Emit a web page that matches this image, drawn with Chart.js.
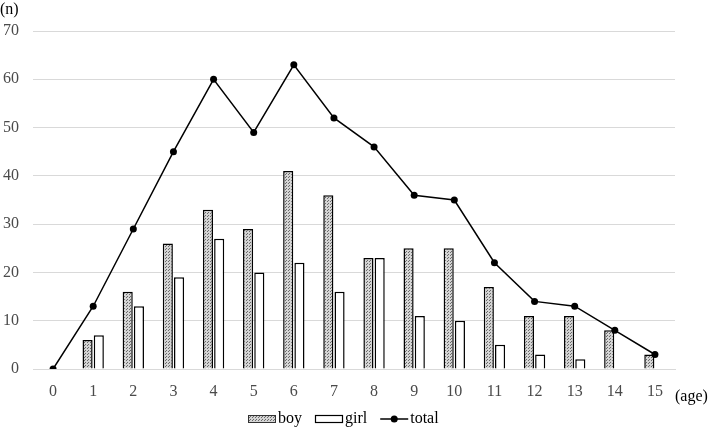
<!DOCTYPE html>
<html>
<head>
<meta charset="utf-8">
<script src="https://cdn.jsdelivr.net/npm/chart.js@4"></script>
<style>
  html, body { margin: 0; padding: 0; background: #fff; }
  #wrap { width: 709px; height: 429px; }
</style>
</head>
<body>
<div id="wrap"><canvas id="ageChart"></canvas></div>
<script>
const ages = ['0', '1', '2', '3', '4', '5', '6', '7', '8', '9', '10', '11', '12', '13', '14', '15'];
const boy = [0, 6, 16, 26, 33, 29, 41, 36, 23, 25, 25, 17, 11, 11, 8, 3];
const girl = [0, 7, 13, 19, 27, 20, 22, 16, 23, 11, 10, 5, 3, 2, 0, 0];
const total = [0, 13, 29, 45, 60, 49, 63, 52, 46, 36, 35, 22, 14, 13, 8, 3];

// dotted fill for the boy bars
function dotPattern() {
  const c = document.createElement('canvas');
  c.width = 3; c.height = 3;
  const g = c.getContext('2d');
  g.fillStyle = '#d4d4d4';
  g.fillRect(0, 0, 3, 3);
  g.fillStyle = '#6a6a6a';
  g.fillRect(0, 0, 1, 1);
  g.fillRect(1, 2, 1, 1);
  return g.createPattern(c, 'repeat');
}
const boyFill = dotPattern();

const font = '16px "Liberation Serif"';

// legend + axis titles, drawn by hand so the symbols look like the original
const extras = {
  id: 'extras',
  afterDraw(chart) {
    const ctx = chart.ctx;
    ctx.save();
    ctx.font = font;
    ctx.fillStyle = '#000';
    ctx.textBaseline = 'middle';
    ctx.textAlign = 'left';
    ctx.fillText('(n)', 0, 10);
    ctx.fillText('(age)', 675, 397);

    const items = ['boy', 'girl', 'total'];
    const iconW = 28, gapIcon = 2, gapItem = 13;
    let width = 0;
    const tws = items.map(t => ctx.measureText(t).width);
    tws.forEach((tw, i) => { width += iconW + gapIcon + tw + (i ? gapItem : 0); });
    // the original legend sits a little left of centre
    let x = Math.round(chart.width / 2 - width / 2) - 11;
    const y = 419;
    items.forEach((t, i) => {
      if (t === 'boy') {
        ctx.fillStyle = boyFill;
        ctx.fillRect(x, y - 4, iconW, 8);
        ctx.strokeStyle = '#333'; ctx.lineWidth = 1;
        ctx.strokeRect(x + 0.5, y - 3.5, iconW - 1, 7);
      } else if (t === 'girl') {
        ctx.fillStyle = '#fff';
        ctx.fillRect(x, y - 4, iconW, 8);
        ctx.strokeStyle = '#000'; ctx.lineWidth = 1.2;
        ctx.strokeRect(x + 0.5, y - 3.5, iconW - 1, 7);
      } else {
        ctx.strokeStyle = '#000'; ctx.lineWidth = 1.5;
        ctx.beginPath(); ctx.moveTo(x, y); ctx.lineTo(x + iconW, y); ctx.stroke();
        ctx.fillStyle = '#000';
        ctx.beginPath(); ctx.arc(x + iconW / 2, y, 3.5, 0, Math.PI * 2); ctx.fill();
      }
      x += iconW + gapIcon;
      ctx.fillStyle = '#000';
      ctx.fillText(t, x, y);
      x += tws[i] + gapItem;
    });
    ctx.restore();
  }
};

new Chart(document.getElementById('ageChart'), {
  data: {
    labels: ages,
    datasets: [
      {
        type: 'line',
        label: 'total',
        data: total,
        borderColor: '#000',
        backgroundColor: '#000',
        borderWidth: 1.5,
        pointRadius: 3.5,
        pointBackgroundColor: '#000',
        pointBorderWidth: 0,
        order: 0
      },
      {
        type: 'bar',
        label: 'boy',
        data: boy,
        backgroundColor: boyFill,
        borderColor: '#000',
        borderWidth: 1.5,
        categoryPercentage: 0.56,
        barPercentage: 0.9,
        order: 1
      },
      {
        type: 'bar',
        label: 'girl',
        data: girl,
        backgroundColor: '#fff',
        borderColor: '#000',
        borderWidth: 1.5,
        categoryPercentage: 0.56,
        barPercentage: 0.9,
        order: 1
      }
    ]
  },
  options: {
    responsive: true,
    maintainAspectRatio: false,
    animation: false,
    layout: { padding: { top: 31, right: 34, left: 0, bottom: 29 } },
    plugins: {
      tooltip: { enabled: false },
      legend: { display: false }
    },
    scales: {
      x: {
        afterFit(s) { s.height = 31; },
        grid: { display: false },
        border: { color: '#d9d9d9', width: 1 },
        ticks: { color: '#4a4a4a', font: { family: 'Liberation Serif', size: 16 }, padding: 5 }
      },
      y: {
        min: 0,
        max: 70,
        afterFit(s) { s.width = 33; },
        grid: { color: '#d9d9d9', lineWidth: 1, drawTicks: false },
        border: { display: false },
        ticks: { stepSize: 10, color: '#4a4a4a', font: { family: 'Liberation Serif', size: 16 }, padding: 14 }
      }
    }
  },
  plugins: [extras]
});
</script>
</body>
</html>
